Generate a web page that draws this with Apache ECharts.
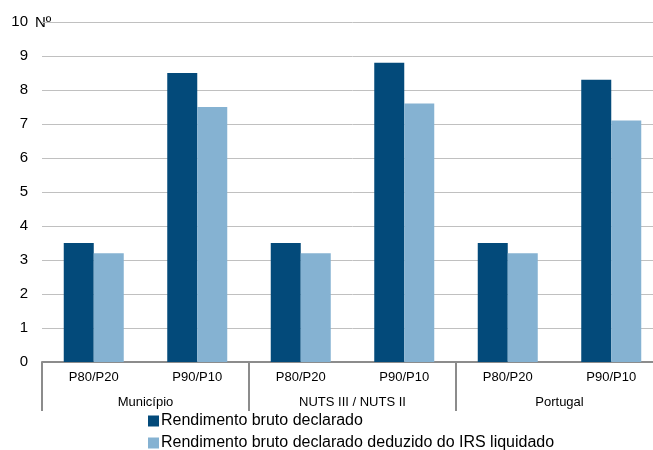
<!DOCTYPE html>
<html><head><meta charset="utf-8">
<script src="https://cdn.jsdelivr.net/npm/echarts@6/dist/echarts.min.js"></script>
<style>html,body{margin:0;padding:0;background:#fff;overflow:hidden}#c{width:663px;height:450px}</style>
</head><body><div id="c"></div>
<script>
const categories = ['P80/P20','P90/P10','P80/P20','P90/P10','P80/P20','P90/P10'];
const groups = ['Município','NUTS III / NUTS II','Portugal'];
const seriesNames = ['Rendimento bruto declarado','Rendimento bruto declarado deduzido do IRS liquidado'];
const brutoValues = [3.5, 8.5, 3.5, 8.8, 3.5, 8.3];
const liquidoValues = [3.2, 7.5, 3.2, 7.6, 3.2, 7.1];
const yTicks = [0,1,2,3,4,5,6,7,8,9,10];

const chart = echarts.init(document.getElementById('c'));
const font = 'Liberation Sans';
const legendBase = {
  orient:'horizontal',left:148,itemGap:6,itemWidth:11,itemHeight:11,
  icon:'rect',padding:0,
  textStyle:{fontSize:16,color:'#000',fontFamily:font,padding:[0,0,0,-3]}
};
chart.setOption({
  animation:false,
  textStyle:{fontFamily:font},
  grid:{left:42,right:0,top:22,height:340,containLabel:false},
  legend:[
    Object.assign({},legendBase,{top:413,data:[seriesNames[0]]}),
    Object.assign({},legendBase,{top:435,data:[seriesNames[1]]})
  ],
  graphic:[{type:'text',left:35,top:15,style:{text:'Nº',fontSize:15,fontFamily:font,fill:'#000'}}],
  xAxis:[
    {type:'category',data:categories,position:'bottom',
     axisLine:{show:true,lineStyle:{color:'#8c8c8c',width:2}},
     axisTick:{show:false},
     axisLabel:{fontSize:13,color:'#000',margin:9,fontFamily:font}},
    {type:'category',data:groups,position:'bottom',
     axisLine:{show:false},
     axisTick:{show:true,length:49,interval:0,lineStyle:{color:'#8c8c8c',width:2}},
     axisLabel:{fontSize:13,color:'#000',margin:34,fontFamily:font}}
  ],
  yAxis:{type:'value',min:yTicks[0],max:yTicks[yTicks.length-1],interval:1,
    axisLine:{show:false},axisTick:{show:false},
    axisLabel:{fontSize:15,color:'#000',margin:14,fontFamily:font},
    splitLine:{lineStyle:{color:'#c0c0c0',width:1}}},
  series:[
    {name:seriesNames[0],type:'bar',data:brutoValues,barWidth:30,barGap:'0%',xAxisIndex:0,
     itemStyle:{color:'#034a7a'}},
    {name:seriesNames[1],type:'bar',data:liquidoValues,barWidth:30,barGap:'0%',xAxisIndex:0,
     itemStyle:{color:'#85b2d2'}}
  ]
});
</script></body></html>
